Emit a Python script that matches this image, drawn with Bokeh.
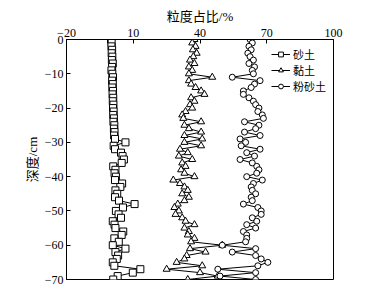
from bokeh.plotting import figure
from bokeh.models import Range1d, LinearAxis, FixedTicker, Legend, LegendItem, ColumnDataSource
from bokeh.embed import file_html
from bokeh.resources import INLINE

depth = [-i for i in range(71)]

sand = [0.0, 0.3, 0.2, 0.5, 0.3, 0.6, 0.4, 0.8, 0.5, 0.2,
        0.6, 0.9, 0.5, 0.8, 0.6, 0.9, 0.7, 1.0, 0.8, 1.1,
        0.9, 1.2, 1.0, 1.3, 1.1, 1.5, 1.3, 1.6, 1.4, 1.8,
        6.5, 1.2, 1.8, 4.5, 5.2, 5.8, 4.8, 1.0, 2.0, 1.6,
        2.2, 1.8, 5.0, 4.2, 2.0, 2.8, 1.8, 3.6, 10.6, 5.4,
        2.2, 3.4, 4.5, 0.8, 1.6, 2.0, 5.5, 4.8, 1.5, 3.5,
        0.8, 6.5, 2.0, 3.2, 2.6, 0.8, 1.5, 13.2, 9.8, 3.0,
        1.0]

clay = [37.5, 36.5, 38.0, 36.8, 38.5, 37.0, 35.5, 37.5, 35.0, 36.5,
        35.0, 45.5, 35.0, 36.0, 38.0, 40.5, 42.0, 36.0, 37.5, 35.5,
        36.5, 33.5, 32.0, 32.5, 40.5, 33.0, 35.0, 40.5, 33.0, 41.0,
        33.0, 40.5, 31.0, 34.5, 30.5, 36.5, 32.0, 33.5, 31.5, 33.0,
        37.5, 28.0, 31.0, 33.0, 34.5, 32.0, 35.0, 33.0, 30.0, 28.5,
        30.5, 29.0, 32.0, 33.5, 37.5, 33.0, 35.0, 34.5, 37.5, 36.0,
        50.0, 35.5, 42.5, 34.0, 33.0, 29.5, 41.0, 25.0, 40.0, 48.0,
        34.5]

silt = [62.5, 63.5, 62.0, 63.0, 61.5, 62.5, 64.0, 62.0, 64.5, 63.5,
        64.0, 54.5, 67.0, 64.5, 63.0, 59.5, 59.5, 62.0, 64.0, 65.0,
        66.5, 66.0, 68.0, 68.5, 60.0, 66.5, 65.0, 60.0, 67.0, 58.0,
        60.5, 58.5, 67.0, 61.0, 64.5, 58.0, 63.5, 65.5, 66.5, 65.5,
        61.0, 68.0, 64.0, 63.0, 63.5, 65.0, 63.0, 63.5, 59.5, 66.0,
        67.5, 67.5, 63.5, 65.5, 61.0, 65.0, 59.5, 61.0, 61.0, 60.5,
        50.0, 65.0, 54.5, 65.0, 67.5, 70.5, 66.0, 48.0, 65.0, 49.0,
        65.0]

x_ticks = [-20, 10, 40, 70, 100]
y_ticks = [0, -10, -20, -30, -40, -50, -60, -70]
names = ["砂土", "黏土", "粉砂土"]

NUM_FONT = "Liberation Serif, Noto Sans CJK SC"

p = figure(width=365, height=293, output_backend="svg", toolbar_location=None,
           x_range=Range1d(-20, 100), y_range=Range1d(-70, 0),
           x_axis_location=None, y_axis_location=None,
           min_border_left=66, min_border_right=32, min_border_top=39, min_border_bottom=14)
p.xgrid.visible = False
p.ygrid.visible = False
p.outline_line_color = "black"
p.outline_line_width = 1
p.background_fill_color = "white"
p.border_fill_color = "white"

xa = LinearAxis(ticker=FixedTicker(ticks=x_ticks), axis_label="粒度占比/%")
ya = LinearAxis(ticker=FixedTicker(ticks=y_ticks), axis_label="深度/cm")
for ax in (xa, ya):
    ax.major_tick_in = 4
    ax.major_tick_out = 0
    ax.minor_tick_line_color = None
    ax.axis_line_color = "black"
    ax.major_tick_line_color = "black"
    ax.major_label_text_font = NUM_FONT
    ax.major_label_text_font_size = "12px"
    ax.major_label_text_color = "black"
    ax.axis_label_text_font = NUM_FONT
    ax.axis_label_text_font_size = "13px"
    ax.axis_label_text_font_style = "normal"
    ax.axis_label_text_color = "black"
    ax.major_label_standoff = 3
    ax.axis_label_standoff = 2
p.add_layout(xa, "above")
p.add_layout(ya, "left")

series = [(sand, "square", 7), (clay, "triangle", 7), (silt, "circle", 6)]
items = []
for (vals, marker, size), name in zip(series, names):
    src = ColumnDataSource(dict(x=vals, y=depth))
    l = p.line("x", "y", source=src, line_color="black", line_width=1)
    s = p.scatter("x", "y", source=src, marker=marker, size=size,
                  fill_color="white", line_color="black", line_width=1)
    items.append(LegendItem(label=name, renderers=[l, s]))

leg = Legend(items=items, location="top_right")
leg.padding = 0
leg.margin = 7
leg.spacing = 0
leg.glyph_width = 19
leg.glyph_height = 12
leg.label_height = 12
leg.label_standoff = 3
leg.label_text_line_height = 1.0
leg.border_line_color = None
leg.background_fill_alpha = 0
leg.label_text_font = "Noto Sans CJK SC"
leg.label_text_font_size = "11px"
leg.label_text_color = "black"
p.add_layout(leg, "center")

open("out.html", "w").write(file_html(p, INLINE))
